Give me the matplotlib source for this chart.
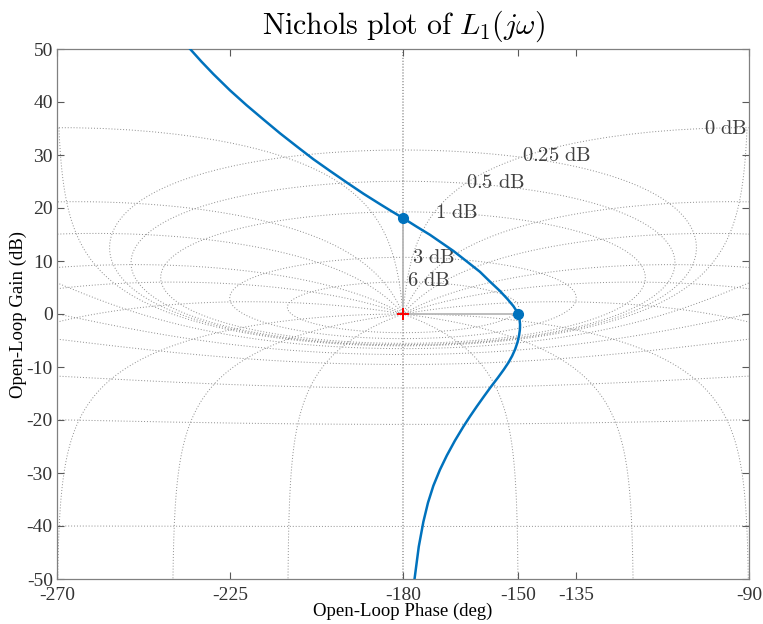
import numpy as np
import matplotlib
matplotlib.use('Agg')
import matplotlib.pyplot as plt

plt.rcParams['mathtext.fontset'] = 'cm'
plt.rcParams['axes.unicode_minus'] = False

# ---- Open-loop response L1(jw) ----
phase_deg = [-235.5, -232.4, -229.3, -225.0, -220.7, -216.3, -212.0, -207.6,
             -203.3, -199.0, -194.6, -190.3, -186.0, -183.0, -180.0, -176.5,
             -173.0, -170.0, -166.9, -163.5, -160.0, -157.5, -154.8, -152.8,
             -151.3, -150.4, -150.0, -149.7, -149.55, -149.6, -149.8, -150.2,
             -150.8, -151.6, -152.6, -153.8, -155.3, -157.2, -159.0, -160.8,
             -162.6, -164.3, -166.5, -168.6, -170.4, -172.1, -173.5, -174.7,
             -175.9, -177.0]
gain_db = [50.1, 47.6, 45.25, 42.2, 39.4, 36.7, 34.1, 31.6,
           29.2, 27.0, 24.8, 22.7, 20.74, 19.4, 18.1, 16.5,
           14.95, 13.45, 11.9, 9.97, 7.97, 6.2, 4.35, 2.8,
           1.5, 0.5, 0.0, -0.9, -2.0, -3.0, -4.0, -5.3,
           -6.6, -7.9, -9.2, -10.5, -12.0, -13.8, -15.6, -17.44,
           -19.35, -21.25, -23.9, -26.7, -29.4, -32.4, -35.6, -39.2,
           -43.9, -50.0]

# margin points
gm_point = (-180.0, 18.1)
pm_point = (-150.0, 0.0)
critical_point = (-180.0, 0.0)

# ---- Nichols grid (closed-loop isogain / isophase values) ----
cl_gains_db = [6, 3, 1, 0.5, 0.25, 0, -1, -3, -6, -12, -20, -40, -60]
cl_phases_deg = [0, 1, 5, 10, 20, 30, 50, 90, 120, 150, 180]

label_texts = ['0 dB', '0.25 dB', '0.5 dB', '1 dB', '3 dB', '6 dB']
label_phase = [-101.7, -149.1, -163.7, -171.7, -177.6, -179.0]
label_gain = [35.1, 30.0, 25.0, 19.3, 10.8, 6.4]

xticks = [-270, -225, -180, -150, -135, -90]
yticks = [-50, -40, -30, -20, -10, 0, 10, 20, 30, 40, 50]


def nichols_coords(L):
    ph = np.degrees(np.unwrap(np.angle(L)))
    g = 20 * np.log10(np.abs(L))
    jump = np.abs(np.diff(ph)) > 60
    ph = ph.astype(float)
    g = g.astype(float)
    if jump.any():
        idx = np.where(jump)[0] + 1
        ph = np.insert(ph, idx, np.nan)
        g = np.insert(g, idx, np.nan)
    return ph, g


fig = plt.figure(figsize=(7.63, 6.24), dpi=100)
ax = fig.add_axes([57 / 763, 45 / 624, 692 / 763, 530 / 624])

grid_kw = dict(color='0.55', lw=0.7, linestyle=(0, (1, 2)), zorder=1)

# isogain curves
for gdb in cl_gains_db:
    M = 10 ** (gdb / 20)
    eps = np.radians(1.0) if gdb == 0 else 0.0
    psi = np.linspace(eps, 2 * np.pi - eps, 3000)
    T = M * np.exp(1j * psi)
    L = T / (1 - T)
    ph, g = nichols_coords(L)
    for k in (-2, -1, 0, 1):
        ax.plot(ph + 360 * k, g, **grid_kw)

# isophase curves
Ms = np.logspace(-4, 4, 8000)
for p in cl_phases_deg:
    for s in (1, -1):
        psi = np.radians(s * p)
        T = Ms * np.exp(1j * psi)
        with np.errstate(divide='ignore', invalid='ignore'):
            L = T / (1 - T)
        ok = np.isfinite(L) & (np.abs(L) > 0)
        ph, g = nichols_coords(L[ok])
        for k in (-2, -1, 0, 1):
            ax.plot(ph + 360 * k, g, **grid_kw)

for txt, xp, yp in zip(label_texts, label_phase, label_gain):
    ax.text(xp, yp, r'$\mathrm{' + txt.replace(' ', r'\ ') + '}$',
            fontsize=14.8, color='0.25', ha='left', va='center', zorder=3)

# margin lines
ax.plot([gm_point[0], critical_point[0]], [gm_point[1], critical_point[1]],
        color='0.72', lw=1.3, zorder=2)
ax.plot([critical_point[0], pm_point[0]], [critical_point[1], pm_point[1]],
        color='0.72', lw=1.3, zorder=2)

# response curve
ax.plot(phase_deg, gain_db, color='#0072BD', lw=1.8, zorder=4,
        solid_joinstyle='round')
ax.plot([gm_point[0], pm_point[0]], [gm_point[1], pm_point[1]], 'o',
        color='#0072BD', ms=7, zorder=5)
ax.plot([critical_point[0]], [critical_point[1]], '+', color='red',
        ms=9, mew=1.4, zorder=5)

ax.set_xlim(-270, -90)
ax.set_ylim(-50, 50)
ax.set_xticks(xticks)
ax.set_xticklabels([str(v) for v in xticks])
ax.set_yticks(yticks)
ax.set_yticklabels([str(v) for v in yticks])

tickfont = 'Liberation Serif'
for lab in ax.get_xticklabels() + ax.get_yticklabels():
    lab.set_fontfamily(tickfont)
    lab.set_fontsize(14)
    lab.set_color('0.2')
ax.tick_params(direction='in', length=5, width=0.8, color='0.35',
               top=True, right=True)
ax.tick_params(axis='x', pad=6)
ax.tick_params(axis='y', pad=3)
for sp in ax.spines.values():
    sp.set_color('0.5')
    sp.set_linewidth(0.9)

ax.set_xlabel('Open-Loop Phase (deg)', fontfamily=tickfont, fontsize=13.5,
              color='black', labelpad=-1)
ax.set_ylabel('Open-Loop Gain (dB)', fontfamily=tickfont, fontsize=13.5,
              color='black', labelpad=0)
ax.set_title(r'$\mathrm{Nichols\ plot\ of\ }L_1(j\omega)$', fontsize=21.5,
             pad=11)

fig.savefig('out.png', dpi=100)
